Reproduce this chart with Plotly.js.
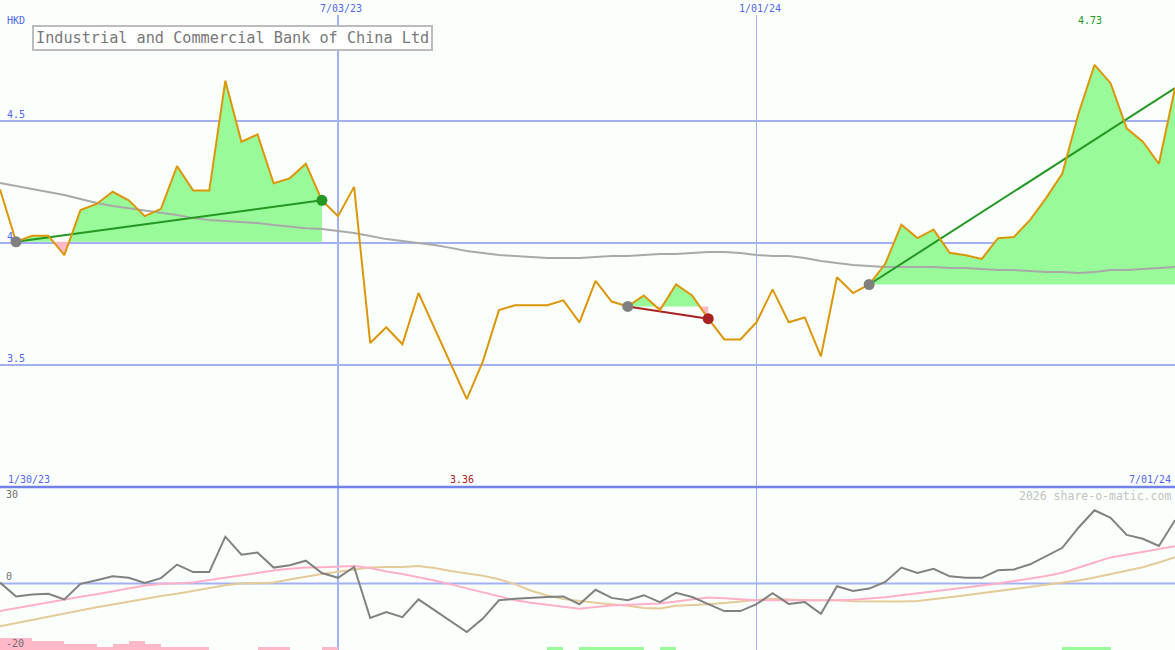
<!DOCTYPE html>
<html>
<head>
<meta charset="utf-8">
<script src="https://cdn.plot.ly/plotly-3.0.1.min.js"></script>
<style>html,body{margin:0;padding:0;background:#fbfffb;}#chart{width:1175px;height:650px;}</style>
</head>
<body>
<div id="chart"></div>
<script>
// ---------- DATA ----------
const title = "Industrial and Commercial Bank of China Ltd";
const currency = "HKD";
const firstWeek = "2023-02-06";           // first plotted weekly point
const xStart = "2023-02-06", xEnd = "2024-07-01";
const rangeStartLabel = "1/30/23", rangeEndLabel = "7/01/24";
const dateLines = ["2023-07-03", "2024-01-01"];
const dateLineLabels = ["7/03/23", "1/01/24"];
const priceTicks = [4.5, 4, 3.5];
const priceTickLabels = ["4.5", "4", "3.5"];
const oscTicks = [30, 0, -20];
const oscTickLabels = ["30", "0", "-20"];

// weekly closing price (HKD)
const price = [4.22, 4.005, 4.03, 4.03, 3.95, 4.135, 4.16, 4.21, 4.175, 4.11,
  4.14, 4.315, 4.215, 4.215, 4.665, 4.415, 4.445, 4.245, 4.265, 4.325,
  4.175, 4.11, 4.23, 3.59, 3.655, 3.585, 3.795, 3.65, 3.505, 3.36,
  3.515, 3.725, 3.745, 3.745, 3.745, 3.765, 3.675, 3.845, 3.76, 3.74,
  3.785, 3.725, 3.83, 3.785, 3.69, 3.605, 3.605, 3.675, 3.81, 3.675,
  3.695, 3.535, 3.86, 3.795, 3.83, 3.915, 4.075, 4.02, 4.055, 3.96,
  3.95, 3.935, 4.02, 4.025, 4.095, 4.185, 4.285, 4.53, 4.73, 4.655,
  4.47, 4.415, 4.325, 4.635];

// long moving average (grey line, top panel)
const movingAvg = [4.246, 4.234, 4.221, 4.209, 4.197, 4.18, 4.164, 4.152, 4.143, 4.135,
  4.123, 4.115, 4.102, 4.094, 4.09, 4.086, 4.082, 4.074, 4.066, 4.061,
  4.057, 4.049, 4.041, 4.029, 4.016, 4.008, 4.0, 3.992, 3.98, 3.967,
  3.959, 3.951, 3.947, 3.943, 3.939, 3.939, 3.939, 3.943, 3.947, 3.947,
  3.951, 3.955, 3.955, 3.959, 3.963, 3.963, 3.959, 3.951, 3.947, 3.947,
  3.939, 3.926, 3.918, 3.91, 3.906, 3.902, 3.902, 3.902, 3.902, 3.898,
  3.898, 3.893, 3.889, 3.889, 3.885, 3.881, 3.881, 3.877, 3.881, 3.889,
  3.889, 3.893, 3.898, 3.902];

// trend segments (start index, end index)
const trendStart = [1, 39, 54];
const trendEnd = [20, 44, 73];
const trendUp = [true, false, true];
const trendEndMarker = [true, true, false];

// lower panel oscillator
const osc = [0.3, -4.3, -3.7, -3.4, -5.3, -0.1, 1.1, 2.4, 1.9, 0.2,
  1.8, 6.3, 3.8, 3.8, 15.6, 9.6, 10.3, 5.3, 6.1, 7.6,
  3.5, 1.9, 5.5, -11.5, -9.5, -11.2, -5.3, -8.9, -12.5, -16.2,
  -11.7, -5.6, -5.1, -4.7, -4.5, -4.3, -6.9, -2.1, -4.8, -5.6,
  -3.9, -6.2, -3.1, -4.5, -6.9, -9.2, -9.2, -6.9, -3.2, -6.8,
  -6.2, -10.1, -0.9, -2.5, -1.7, 0.5, 5.3, 3.5, 4.9, 2.4,
  1.9, 1.9, 4.4, 4.7, 6.4, 9.2, 11.9, 18.6, 24.4, 21.9,
  16.2, 14.9, 12.5, 21.1];
const oscFast = [-9.2, -8.2, -7.2, -6.2, -5.2, -4.4, -3.6, -2.6, -1.5, -0.7,
  -0.2, 0, 0.3, 1.2, 2.0, 2.8, 3.6, 4.3, 4.9, 5.3,
  5.4, 5.5, 5.8, 5.2, 4.0, 3.2, 2.2, 1.0, -0.3, -1.6,
  -3.0, -4.4, -5.6, -6.4, -7.0, -7.6, -8.4, -7.8, -7.3, -7.1,
  -7.0, -6.7, -6.0, -5.4, -4.7, -4.9, -5.2, -5.6, -5.6, -5.6,
  -5.7, -5.6, -5.6, -5.4, -5.0, -4.6, -3.9, -3.3, -2.7, -2.0,
  -1.3, -0.7, 0, 0.8, 1.6, 2.5, 3.6, 5.2, 7.0, 8.7,
  9.6, 10.5, 11.3, 12.4];
const oscSlow = [-14.3, -13.2, -12.1, -11.0, -10.0, -8.9, -7.9, -7.0, -6.0, -5.1,
  -4.2, -3.4, -2.4, -1.5, -0.6, 0, 0.1, 0.3, 1.3, 2.3,
  3.2, 3.9, 4.6, 5.3, 5.5, 5.5, 5.8, 5.2, 4.2, 3.5,
  2.6, 1.4, -0.2, -2.4, -4.0, -5.2, -5.9, -6.4, -6.9, -7.4,
  -8.2, -8.3, -7.4, -7.2, -6.9, -6.5, -5.9, -5.5, -5.1, -5.4,
  -5.6, -5.6, -5.6, -5.9, -6.0, -6.0, -6.0, -5.8, -5.3, -4.6,
  -3.9, -3.2, -2.5, -1.7, -0.9, -0.2, 0.3, 1.0, 2.0, 3.1,
  4.2, 5.4, 7.0, 8.8];
// histogram bar tops (oscillator units), null = no bar
const N = null;
const pinkBarTop = [-18.1, -18.1, -19.2, -19.2, -20.3, -20.3, -21.2, -20.1, -19.2, -20.1,
  -21.2, -21.2, -21.2, N, N, N, -21.2, -21.2, N, N,
  -21.2, N, N, N, N, N, N, N, N, N,
  N, N, N, N, N, N, N, N, N, N,
  N, N, N, N, N, N, N, N, N, N,
  N, N, N, N, N, N, N, N, N, N,
  N, N, N, N, N, N, N, N, N, N,
  N, N, N];
const greenBarTop = [N, N, N, N, N, N, N, N, N, N,
  N, N, N, N, N, N, N, N, N, N,
  N, N, N, N, N, N, N, N, N, N,
  N, N, N, N, -21.2, N, -21.2, -21.2, -21.2, -21.2,
  N, -21.2, N, N, N, N, N, N, N, N,
  N, N, N, N, N, N, N, N, N, N,
  N, N, N, N, N, N, -21.2, -21.2, -21.2, N,
  N, N, N];

// ---------- BUILD ----------
const DAY = 86400000;
const t0 = Date.parse(firstWeek + "T00:00:00Z");
function fmt(ms) { return new Date(ms).toISOString().slice(0, 23).replace("T", " "); }
const tms = price.map((_, i) => t0 + i * 7 * DAY);
const dates = tms.map(fmt);

const FONT = "DejaVu Sans Mono, Liberation Mono, monospace";
const C = {
  bg: "#fbfffb", grid: "#a3b1f3", sep: "#7282ea", label: "#5266f2",
  price: "#dc960a", ma: "#a9a9a9", green: "#98fa98", pink: "#ffb8c8",
  up: "#239623", down: "#a82020", startMk: "#808080",
  osc: "#818181", fast: "#ffb0c8", slow: "#e4cb9a"
};

const traces = [];
// fills for each trend segment
trendStart.forEach((s, k) => {
  const e = trendEnd[k];
  const base = price[s];
  const px = [], pv = [];
  for (let i = s; i <= e; i++) {
    px.push(tms[i]); pv.push(price[i]);
    if (i < e && (price[i] - base) * (price[i + 1] - base) < 0) {
      const f = (base - price[i]) / (price[i + 1] - price[i]);
      px.push(tms[i] + f * (tms[i + 1] - tms[i])); pv.push(base);
    }
  }
  const xs = px.map(fmt);
  const bl = xs.map(() => base);
  traces.push({x: xs, y: bl, mode: "lines", line: {width: 0}, hoverinfo: "skip", showlegend: false});
  traces.push({x: xs, y: pv.map(v => Math.max(v, base)), mode: "lines", line: {width: 0},
    fill: "tonexty", fillcolor: C.green, hoverinfo: "skip", showlegend: false});
  traces.push({x: xs, y: bl, mode: "lines", line: {width: 0}, hoverinfo: "skip", showlegend: false});
  traces.push({x: xs, y: pv.map(v => Math.min(v, base)), mode: "lines", line: {width: 0},
    fill: "tonexty", fillcolor: C.pink, hoverinfo: "skip", showlegend: false});
});
// moving average
traces.push({x: dates, y: movingAvg, mode: "lines", line: {color: C.ma, width: 2}, showlegend: false});
// trend lines
trendStart.forEach((s, k) => {
  const e = trendEnd[k];
  traces.push({x: [dates[s], dates[e]], y: [price[s], price[e]], mode: "lines",
    line: {color: trendUp[k] ? C.up : C.down, width: 2}, showlegend: false});
});
// price
traces.push({x: dates, y: price, mode: "lines", line: {color: C.price, width: 2}, showlegend: false});
// markers
trendStart.forEach((s, k) => {
  const e = trendEnd[k];
  traces.push({x: [dates[s]], y: [price[s]], mode: "markers",
    marker: {color: C.startMk, size: 11}, showlegend: false});
  if (trendEndMarker[k]) traces.push({x: [dates[e]], y: [price[e]], mode: "markers",
    marker: {color: trendUp[k] ? C.up : C.down, size: 11}, showlegend: false});
});
// lower panel bars
const BARBASE = -23;
const barDates = dates.slice(0, pinkBarTop.length);
traces.push({type: "bar", x: barDates, y: pinkBarTop.map(v => v === null ? null : v - BARBASE),
  base: BARBASE, width: 7 * DAY, offset: 0, marker: {color: C.pink, line: {width: 0}},
  xaxis: "x", yaxis: "y2", showlegend: false});
traces.push({type: "bar", x: barDates, y: greenBarTop.map(v => v === null ? null : v - BARBASE),
  base: BARBASE, width: 7 * DAY, offset: 0, marker: {color: C.green, line: {width: 0}},
  xaxis: "x", yaxis: "y2", showlegend: false});
// lower panel lines
traces.push({x: dates, y: oscSlow, mode: "lines", line: {color: C.slow, width: 2}, yaxis: "y2", showlegend: false});
traces.push({x: dates, y: oscFast, mode: "lines", line: {color: C.fast, width: 2}, yaxis: "y2", showlegend: false});
traces.push({x: dates, y: osc, mode: "lines", line: {color: C.osc, width: 2}, yaxis: "y2", showlegend: false});

// ---------- LAYOUT ----------
const H = 650, W = 1175;
const split = 163 / H;
const shapes = [];
priceTicks.forEach(v => shapes.push({type: "line", xref: "paper", x0: 0, x1: 1, yref: "y", y0: v, y1: v,
  line: {color: C.grid, width: 2}, layer: "below"}));
shapes.push({type: "line", xref: "paper", x0: 0, x1: 1, yref: "y2", y0: 0, y1: 0,
  line: {color: C.grid, width: 2}, layer: "below"});
dateLines.forEach((d, k) => shapes.push({type: "line", xref: "x", x0: d, x1: d, yref: "paper", y0: 0, y1: 1 - 15 / H,
  line: {color: C.grid, width: k === 0 ? 2 : 1}, layer: "below"}));
shapes.push({type: "line", xref: "paper", x0: 0, x1: 1, yref: "paper", y0: split, y1: split,
  line: {color: C.sep, width: 2.5}});

const ann = [];
const small = {family: FONT, size: 10, color: C.label};
ann.push({text: currency, xref: "paper", x: 5 / W, xanchor: "left", yref: "paper", y: 1 - 20 / H, yanchor: "middle",
  showarrow: false, font: small});
dateLines.forEach((d, k) => ann.push({text: dateLineLabels[k], xref: "x", x: d, xanchor: "center", xshift: 3,
  yref: "paper", y: 1 - 8 / H, yanchor: "middle", showarrow: false, font: small}));
priceTicks.forEach((v, k) => ann.push({text: priceTickLabels[k], xref: "paper", x: 5 / W, xanchor: "left",
  yref: "y", y: v, yanchor: "bottom", yshift: -1, showarrow: false, font: small}));
ann.push({text: title, xref: "paper", x: 32 / W, xanchor: "left", yref: "paper", y: 1 - 25 / H, yanchor: "top",
  showarrow: false, font: {family: FONT, size: 15.2, color: "#777777"}, bordercolor: "#bcbcbc", borderwidth: 2,
  borderpad: 2, bgcolor: "#ffffff"});
const iMax = price.indexOf(Math.max(...price));
const iMin = price.indexOf(Math.min(...price));
ann.push({text: price[iMax].toFixed(2), xref: "x", x: dates[iMax], xanchor: "center", xshift: -5,
  yref: "paper", y: 1 - 21 / H, yanchor: "middle", showarrow: false, font: {family: FONT, size: 10, color: C.up}});
ann.push({text: price[iMin].toFixed(2), xref: "x", x: dates[iMin], xanchor: "center", xshift: -5,
  yref: "paper", y: (H - 479) / H, yanchor: "middle", showarrow: false, font: {family: FONT, size: 10, color: C.down}});
ann.push({text: rangeStartLabel, xref: "paper", x: 6 / W, xanchor: "left", yref: "paper", y: (H - 479) / H,
  yanchor: "middle", showarrow: false, font: small});
ann.push({text: rangeEndLabel, xref: "paper", x: 1 - 2 / W, xanchor: "right", yref: "paper", y: (H - 479) / H,
  yanchor: "middle", showarrow: false, font: small});
ann.push({text: "2026 share-o-matic.com", xref: "paper", x: 1 - 2 / W, xanchor: "right", yref: "paper", y: (H - 496) / H,
  yanchor: "middle", showarrow: false, font: {family: FONT, size: 11.5, color: "#c2c2c2"}});
const oscFont = {family: FONT, size: 10, color: "#707070"};
ann.push({text: oscTickLabels[0], xref: "paper", x: 4 / W, xanchor: "left", yref: "y2", y: oscTicks[0], yanchor: "middle",
  yshift: -1, showarrow: false, font: oscFont});
ann.push({text: oscTickLabels[1], xref: "paper", x: 4 / W, xanchor: "left", yref: "y2", y: oscTicks[1], yanchor: "bottom",
  showarrow: false, font: oscFont});
ann.push({text: oscTickLabels[2], xref: "paper", x: 4 / W, xanchor: "left", yref: "y2", y: oscTicks[2], yanchor: "middle",
  showarrow: false, font: oscFont});

const layout = {
  width: W, height: H, margin: {l: 0, r: 0, t: 0, b: 0, pad: 0},
  paper_bgcolor: C.bg, plot_bgcolor: C.bg, showlegend: false, bargap: 0,
  xaxis: {type: "date", range: [xStart, xEnd], visible: false, fixedrange: true},
  yaxis: {domain: [split, 1], range: [3.0, 4.996], visible: false, fixedrange: true},
  yaxis2: {domain: [0, split], range: [-22.17, 32.17], visible: false, fixedrange: true},
  shapes: shapes, annotations: ann, hovermode: false
};
Plotly.newPlot("chart", traces, layout, {staticPlot: true, displayModeBar: false});
</script>
</body>
</html>
